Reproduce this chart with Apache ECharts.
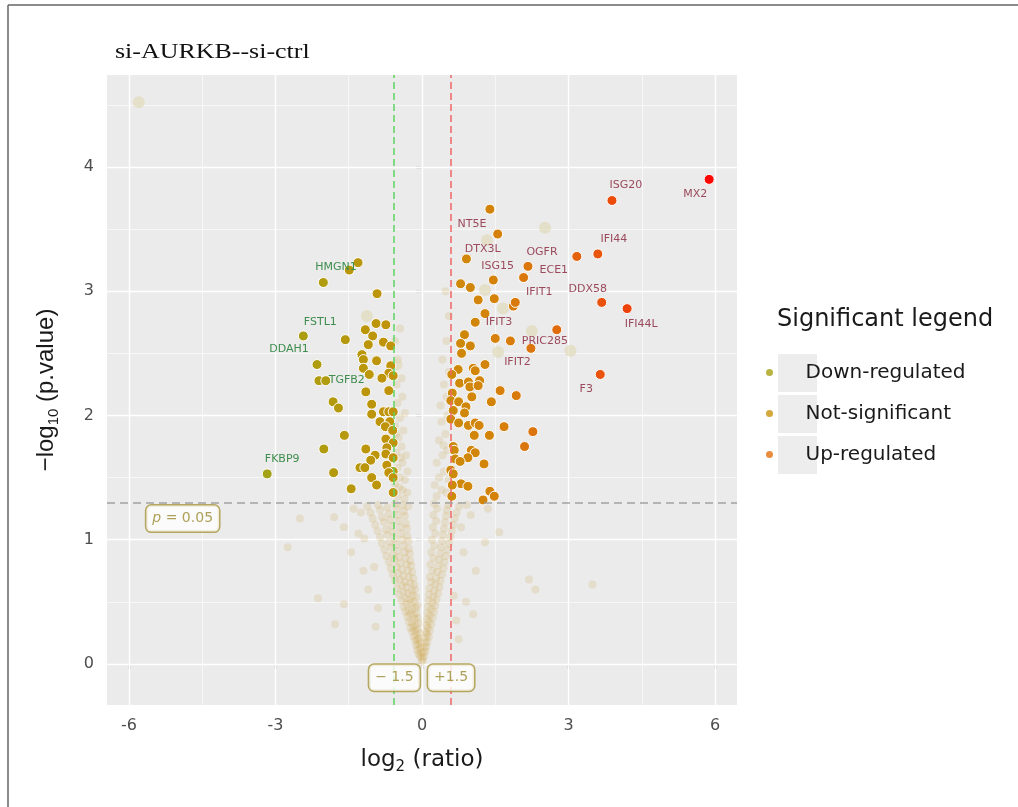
<!DOCTYPE html>
<html>
<head>
<meta charset="utf-8">
<title>si-AURKB--si-ctrl volcano</title>
<script src="https://cdn.jsdelivr.net/npm/echarts@6/dist/echarts.min.js"></script>
<style>
    html, body { margin: 0; padding: 0; background: #fff; }
    #chart { width: 1018px; height: 807px; }
</style>
</head>
<body>
<div id="chart"></div>
<script>
// thresholds: fold change 1.5 and p = 0.05
const FC_CUT = 0.585;
const P_CUT = 1.301;

const xTicks = [-6, -3, 0, 3, 6];
const xMinorLines = [-4.5, -1.5, 1.5, 4.5];
const yTicks = [0, 1, 2, 3, 4];
const yMinorLines = [0.5, 1.5, 2.5, 3.5, 4.5];

const legendNames = ['Down-regulated', 'Not-significant', 'Up-regulated'];
const legendColors = ['#a6a014', '#c8920c', '#e2700e'];

// significant genes that carry a label: [name, log2 ratio, -log10 p]
const labeledGenes = [
    ['HMGN1', -1.31, 3.23],
    ['FSTL1', -2.43, 2.64],
    ['DDAH1', -2.15, 2.41],
    ['TGFB2', -1.97, 2.28],
    ['FKBP9', -3.17, 1.53],
    ['MX2', 5.88, 3.90],
    ['ISG20', 3.89, 3.73],
    ['NT5E', 1.39, 3.66],
    ['DTX3L', 1.55, 3.46],
    ['IFI44', 3.60, 3.30],
    ['ECE1', 3.17, 3.28],
    ['OGFR', 2.17, 3.20],
    ['ISG15', 2.08, 3.11],
    ['IFIT1', 1.91, 2.91],
    ['DDX58', 3.68, 2.91],
    ['IFI44L', 4.20, 2.86],
    ['IFIT3', 1.29, 2.82],
    ['IFIT2', 1.81, 2.60],
    ['PRIC285', 2.23, 2.54],
    ['F3', 3.65, 2.33]
];

// other significant genes, left of -1.5 fold
const downPoints = [
    [-1.49, 3.17], [-2.02, 3.07], [-0.92, 2.98], [-0.94, 2.74], [-0.74, 2.73], [-1.16, 2.69],
    [-1.01, 2.64], [-1.57, 2.61], [-0.79, 2.59], [-1.10, 2.57], [-0.64, 2.56], [-1.23, 2.49],
    [-1.20, 2.45], [-0.93, 2.44], [-0.64, 2.40], [-1.20, 2.38], [-0.68, 2.34], [-1.08, 2.33],
    [-0.59, 2.32], [-0.82, 2.30], [-2.11, 2.28], [-0.68, 2.20], [-1.15, 2.19], [-1.82, 2.11],
    [-1.71, 2.06], [-1.03, 2.09], [-1.03, 2.01], [-0.79, 2.03], [-0.68, 2.03], [-0.59, 2.03],
    [-0.86, 1.95], [-0.66, 1.95], [-0.75, 1.91], [-0.60, 1.88], [-1.59, 1.84], [-0.74, 1.81],
    [-0.59, 1.78], [-0.72, 1.74], [-2.01, 1.73], [-1.15, 1.73], [-0.96, 1.68], [-0.74, 1.69],
    [-0.59, 1.66], [-1.05, 1.64], [-0.72, 1.60], [-1.27, 1.58], [-1.17, 1.58], [-0.59, 1.55],
    [-1.81, 1.54], [-0.68, 1.54], [-1.03, 1.50], [-0.59, 1.50], [-0.93, 1.44], [-1.45, 1.41],
    [-0.59, 1.38]
];

// other significant genes, right of +1.5 fold
const upPoints = [
    [0.91, 3.26], [1.46, 3.09], [0.79, 3.06], [0.99, 3.03], [1.15, 2.93], [1.48, 2.94],
    [1.87, 2.88], [1.09, 2.75], [2.76, 2.69], [0.87, 2.65], [0.79, 2.58], [0.99, 2.56],
    [1.50, 2.62], [0.81, 2.50], [1.29, 2.41], [0.74, 2.37], [1.05, 2.38], [1.09, 2.36],
    [0.61, 2.33], [0.77, 2.26], [0.95, 2.27], [1.18, 2.28], [0.98, 2.23], [1.15, 2.24],
    [1.60, 2.20], [1.93, 2.16], [1.02, 2.15], [0.62, 2.18], [0.59, 2.12], [0.75, 2.11],
    [1.42, 2.11], [0.90, 2.07], [0.87, 2.02], [0.64, 2.04], [0.59, 1.97], [0.75, 1.94],
    [0.95, 1.92], [1.09, 1.94], [1.17, 1.92], [1.68, 1.91], [2.27, 1.87], [1.07, 1.84],
    [1.38, 1.84], [2.10, 1.75], [0.64, 1.75], [0.66, 1.72], [1.01, 1.72], [1.09, 1.70],
    [0.94, 1.66], [0.68, 1.65], [0.78, 1.63], [1.27, 1.61], [0.59, 1.56], [0.64, 1.53],
    [0.80, 1.45], [0.94, 1.43], [0.62, 1.44], [1.39, 1.39], [1.48, 1.35], [1.25, 1.32],
    [0.61, 1.35]
];

// non-significant genes, left arm of the V
const cloudLeft = [
    [-0.01, 0.02], [0.00, 0.05], [-0.04, 0.06], [-0.02, 0.09], [-0.07, 0.08], [-0.05, 0.12],
    [-0.10, 0.11], [-0.03, 0.14], [-0.12, 0.15], [-0.08, 0.16], [-0.04, 0.18], [-0.14, 0.19],
    [-0.10, 0.20], [-0.06, 0.21], [-0.17, 0.22], [-0.12, 0.24], [-0.05, 0.25], [-0.20, 0.26],
    [-0.15, 0.27], [-0.09, 0.28], [-0.24, 0.29], [-0.18, 0.30], [-0.12, 0.31], [-0.07, 0.33],
    [-0.27, 0.34], [-0.21, 0.33], [-0.15, 0.36], [-0.09, 0.37], [-0.30, 0.38], [-0.24, 0.40],
    [-0.17, 0.39], [-0.11, 0.41], [-0.34, 0.42], [-0.27, 0.43], [-0.20, 0.44], [-0.13, 0.45],
    [-0.09, 0.47], [-0.38, 0.46], [-0.31, 0.48], [-0.23, 0.49], [-0.16, 0.50], [-0.42, 0.51],
    [-0.34, 0.53], [-0.26, 0.52], [-0.19, 0.55], [-0.12, 0.54], [-0.47, 0.56], [-0.38, 0.58],
    [-0.29, 0.57], [-0.21, 0.59], [-0.14, 0.60], [-0.51, 0.61], [-0.41, 0.63], [-0.32, 0.62],
    [-0.24, 0.65], [-0.16, 0.64], [-0.55, 0.67], [-0.45, 0.68], [-0.35, 0.66], [-0.27, 0.70],
    [-0.18, 0.69], [-0.60, 0.72], [-0.49, 0.73], [-0.38, 0.71], [-0.29, 0.75], [-0.20, 0.74],
    [-0.64, 0.77], [-0.52, 0.78], [-0.41, 0.76], [-0.31, 0.80], [-0.22, 0.79], [-0.68, 0.82],
    [-0.56, 0.84], [-0.44, 0.81], [-0.34, 0.85], [-0.24, 0.83], [-0.73, 0.87], [-0.60, 0.88],
    [-0.47, 0.86], [-0.36, 0.90], [-0.25, 0.89], [-0.77, 0.92], [-0.63, 0.94], [-0.50, 0.91],
    [-0.38, 0.95], [-0.27, 0.93], [-0.82, 0.97], [-0.67, 0.98], [-0.53, 0.96], [-0.41, 1.00],
    [-0.28, 0.99], [-0.86, 1.02], [-0.71, 1.04], [-0.56, 1.01], [-0.43, 1.05], [-0.30, 1.03],
    [-0.91, 1.07], [-0.74, 1.08], [-0.59, 1.06], [-0.45, 1.10], [-0.31, 1.09], [-0.96, 1.12],
    [-0.78, 1.14], [-0.62, 1.11], [-0.48, 1.15], [-0.33, 1.13], [-1.01, 1.17], [-0.82, 1.18],
    [-0.65, 1.16], [-0.50, 1.20], [-0.35, 1.19], [-1.06, 1.22], [-0.86, 1.24], [-0.68, 1.21],
    [-0.52, 1.25], [-0.37, 1.23], [-1.12, 1.27], [-0.90, 1.28], [-0.71, 1.26], [-0.55, 1.29],
    [-0.40, 1.28], [-0.28, 1.27]
];

// non-significant genes, right arm of the V
const cloudRight = [
    [0.02, 0.03], [0.04, 0.06], [0.03, 0.09], [0.07, 0.10], [0.05, 0.13], [0.09, 0.14],
    [0.06, 0.17], [0.11, 0.18], [0.07, 0.21], [0.14, 0.22], [0.10, 0.24], [0.08, 0.26],
    [0.16, 0.27], [0.12, 0.29], [0.09, 0.31], [0.19, 0.32], [0.14, 0.34], [0.10, 0.36],
    [0.22, 0.37], [0.16, 0.39], [0.11, 0.41], [0.25, 0.42], [0.19, 0.44], [0.12, 0.46],
    [0.27, 0.47], [0.21, 0.49], [0.13, 0.51], [0.30, 0.52], [0.23, 0.54], [0.14, 0.56],
    [0.33, 0.57], [0.25, 0.59], [0.15, 0.61], [0.36, 0.62], [0.27, 0.64], [0.19, 0.66],
    [0.38, 0.67], [0.29, 0.69], [0.16, 0.70], [0.41, 0.72], [0.31, 0.74], [0.21, 0.75],
    [0.44, 0.77], [0.33, 0.79], [0.17, 0.80], [0.46, 0.82], [0.35, 0.84], [0.23, 0.85],
    [0.49, 0.87], [0.37, 0.89], [0.19, 0.90], [0.52, 0.92], [0.39, 0.94], [0.25, 0.95],
    [0.55, 0.97], [0.41, 0.99], [0.20, 1.00], [0.58, 1.02], [0.43, 1.04], [0.27, 1.05],
    [0.61, 1.07], [0.45, 1.09], [0.22, 1.10], [0.64, 1.12], [0.47, 1.14], [0.29, 1.15],
    [0.67, 1.17], [0.49, 1.19], [0.23, 1.20], [0.71, 1.22], [0.51, 1.24], [0.31, 1.25],
    [0.76, 1.27], [0.54, 1.28], [0.25, 1.29]
];

// non-significant genes above the p line, between the fold lines, and scattered outliers
const cloudOther = [
    [-0.50, 1.35], [-0.40, 1.40], [-0.30, 1.38], [-0.55, 1.45], [-0.45, 1.50], [-0.35, 1.48],
    [-0.50, 1.58], [-0.40, 1.62], [-0.30, 1.55], [-0.52, 1.70], [-0.42, 1.75], [-0.33, 1.68],
    [-0.48, 1.82], [-0.38, 1.88], [-0.55, 1.92], [-0.45, 1.98], [-0.35, 2.02], [-0.50, 2.10],
    [-0.40, 2.15], [-0.52, 2.25], [-0.42, 2.30], [-0.50, 2.45], [-0.55, 2.60], [-0.45, 2.70],
    [-0.47, 1.42], [-0.36, 1.33], [-0.44, 1.66], [-0.53, 1.85], [0.30, 1.35], [0.40, 1.40],
    [0.50, 1.38], [0.35, 1.50], [0.45, 1.55], [0.55, 1.48], [0.30, 1.62], [0.42, 1.68],
    [0.52, 1.72], [0.35, 1.80], [0.48, 1.85], [0.40, 1.95], [0.52, 2.00], [0.38, 2.08],
    [0.50, 2.15], [0.45, 2.25], [0.55, 2.35], [0.42, 2.45], [0.50, 2.60], [0.55, 2.80],
    [0.48, 3.00], [0.26, 1.44], [0.44, 1.76], [-2.75, 0.94], [-2.50, 1.17], [-1.80, 1.18],
    [-2.13, 0.53], [-1.60, 0.48], [-1.78, 0.32], [-1.45, 0.90], [-1.30, 1.05], [-1.20, 0.75],
    [-1.10, 0.60], [-0.90, 0.45], [-1.40, 1.25], [-1.60, 1.10], [-0.95, 0.30], [-1.25, 1.22],
    [-1.18, 1.01], [-0.98, 0.78], [3.49, 0.64], [2.19, 0.68], [2.32, 0.60], [1.58, 1.06],
    [1.29, 0.98], [1.00, 1.20], [0.85, 0.90], [0.90, 0.50], [0.70, 0.35], [1.10, 0.75],
    [1.35, 1.25], [0.80, 1.10], [0.65, 0.55], [1.05, 0.40], [0.75, 0.20], [0.92, 1.28]
];

// faint, larger non-significant points
const faintLargePoints = [
    [-5.8, 4.52], [2.52, 3.51], [3.04, 2.52], [1.33, 3.41], [1.29, 3.01], [1.66, 2.86],
    [2.25, 2.68], [1.56, 2.51], [-1.13, 2.80], [-0.52, 2.41]
];

// annotation boxes: [text, x, y]
const annotations = [
    ['{i|p} = 0.05', -4.9, 1.17],
    ['− 1.5', -0.565, -0.11],
    ['+1.5', 0.595, -0.11]
];

// label nudges in pixels, by gene
const labelNudge = {
    HMGN1: [-22, 5], FSTL1: [17, -14], DDAH1: [-28, -15], TGFB2: [21, -1], FKBP9: [15, -15],
    MX2: [-14, 15], ISG20: [14, -15], NT5E: [-18, 15], DTX3L: [-15, 15], IFI44: [16, -15],
    ECE1: [-23, 14], OGFR: [14, -14], ISG15: [-26, -11], IFIT1: [24, -10], DDX58: [-14, -13],
    IFI44L: [14, 16], IFIT3: [14, 9], IFIT2: [7, 21], PRIC285: [14, -7], F3: [-14, 15]
};

const SANS = '"DejaVu Sans", sans-serif';
const ARIAL = '"Liberation Sans", Arial, sans-serif';

function buildSignificantData() {
    const plain = downPoints.concat(upPoints).map((p) => ({ value: p }));
    const named = labeledGenes.map(([name, x, y]) => ({
        name,
        value: [x, y],
        label: {
            show: true,
            formatter: name,
            color: x < 0 ? '#3f8d4e' : '#9b4a5c'
        }
    }));
    return plain.concat(named);
}

function gridLines() {
    const major = { color: '#ffffff', width: 1.4, type: 'solid' };
    const minor = { color: '#ffffff', width: 0.6, type: 'solid' };
    return []
        .concat(xMinorLines.map((v) => ({ xAxis: v, lineStyle: minor })))
        .concat(yMinorLines.map((v) => ({ yAxis: v, lineStyle: minor })))
        .concat(xTicks.map((v) => ({ xAxis: v, lineStyle: major })))
        .concat(yTicks.map((v) => ({ yAxis: v, lineStyle: major })));
}

const chart = echarts.init(document.getElementById('chart'));

const option = {
    animation: false,
    backgroundColor: '#ffffff',
    grid: {
        left: 107, right: 281, top: 75, bottom: 102,
        show: true, backgroundColor: '#ebebeb', borderWidth: 0
    },
    xAxis: {
        type: 'value', min: -6.45, max: 6.45,
        axisLine: { show: false },
        splitLine: { show: false },
        axisTick: { show: true, customValues: xTicks, length: 5, lineStyle: { color: '#333', width: 1.2 } },
        axisLabel: { customValues: xTicks, fontSize: 16, color: '#4d4d4d', margin: 13, fontFamily: SANS },
        name: '{n|log}{s|2}{n| (ratio)}',
        nameLocation: 'middle',
        nameGap: 40,
        nameTextStyle: {
            rich: {
                n: { fontSize: 23, lineHeight: 30, color: '#1a1a1a', fontFamily: SANS },
                s: { fontSize: 15, lineHeight: 16, verticalAlign: 'bottom', color: '#1a1a1a', fontFamily: SANS }
            }
        }
    },
    yAxis: {
        type: 'value', min: -0.33, max: 4.74,
        axisLine: { show: false },
        splitLine: { show: false },
        axisTick: { show: true, customValues: yTicks, length: 6, lineStyle: { color: '#333', width: 1.2 } },
        axisLabel: { customValues: yTicks, fontSize: 16, color: '#4d4d4d', margin: 13, fontFamily: SANS },
        name: '{n|−log}{s|10}{n| (p.value)}',
        nameLocation: 'middle',
        nameRotate: 90,
        nameGap: 46,
        nameTextStyle: {
            rich: {
                n: { fontSize: 24, lineHeight: 30, color: '#1a1a1a', fontFamily: ARIAL },
                s: { fontSize: 15, lineHeight: 16, verticalAlign: 'bottom', color: '#1a1a1a', fontFamily: ARIAL }
            }
        }
    },
    visualMap: {
        type: 'continuous', show: false, dimension: 0, seriesIndex: 3,
        min: -3.2, max: 6,
        inRange: { color: ['#a3a114', '#b5990c', '#c6900a', '#d4830a', '#e2690f', '#f03a0a', '#ff0000'] }
    },
    legend: {
        orient: 'vertical', left: 766, top: 352, padding: 0, itemGap: 0,
        itemWidth: 62, itemHeight: 7, icon: 'circle', selectedMode: false, z: 5,
        data: legendNames,
        textStyle: { fontSize: 20, lineHeight: 41, color: '#1a1a1a', fontFamily: SANS }
    },
    graphic: [
        { type: 'line', shape: { x1: 8, y1: 5, x2: 8, y2: 807 }, style: { stroke: '#666', lineWidth: 1.5 } },
        { type: 'line', shape: { x1: 8, y1: 5, x2: 1018, y2: 5 }, style: { stroke: '#666', lineWidth: 1.5 } },
        {
            type: 'text', x: 115, y: 52, scaleX: 1.18,
            style: { text: 'si-AURKB--si-ctrl', fill: '#111', font: '22px "Liberation Serif", "Times New Roman", serif', verticalAlign: 'middle' }
        },
        {
            type: 'text', x: 777, y: 320,
            style: { text: 'Significant legend', fill: '#1a1a1a', font: '24px ' + SANS, verticalAlign: 'middle' }
        },
        { type: 'rect', z: 0, shape: { x: 778, y: 354, width: 39, height: 38 }, style: { fill: '#ededed' } },
        { type: 'rect', z: 0, shape: { x: 778, y: 395, width: 39, height: 38 }, style: { fill: '#ededed' } },
        { type: 'rect', z: 0, shape: { x: 778, y: 436, width: 39, height: 38 }, style: { fill: '#ededed' } }
    ],
    series: [
        {
            type: 'scatter', data: [], silent: true, z: 1,
            markLine: { z: 1, silent: true, symbol: ['none', 'none'], label: { show: false }, animation: false, data: gridLines() }
        },
        {
            type: 'scatter', data: cloudLeft.concat(cloudRight, cloudOther), silent: true, z: 2,
            symbolSize: 8,
            itemStyle: { color: 'rgba(208,170,80,0.26)' }
        },
        {
            type: 'scatter', data: faintLargePoints, silent: true, z: 2,
            symbolSize: 12,
            itemStyle: { color: 'rgba(224,216,182,0.8)' }
        },
        {
            type: 'scatter', data: buildSignificantData(), z: 4,
            symbolSize: 10,
            itemStyle: { borderColor: '#ffffff', borderWidth: 1, opacity: 1 },
            label: { show: false, position: 'inside', fontSize: 11, fontFamily: SANS },
            labelLayout: (params) => {
                const nudge = labelNudge[params.text];
                return nudge ? { dx: nudge[0], dy: nudge[1] } : {};
            }
        },
        {
            type: 'scatter', data: [], silent: true, z: 5,
            markLine: {
                z: 5, silent: true, symbol: ['none', 'none'], label: { show: false }, animation: false,
                data: [
                    { xAxis: -FC_CUT, lineStyle: { color: '#5fd35f', width: 1.5, type: [7, 4] } },
                    { xAxis: FC_CUT, lineStyle: { color: '#f06868', width: 1.5, type: [7, 4] } },
                    { yAxis: P_CUT, lineStyle: { color: '#a3a3a3', width: 1.5, type: [8, 5] } }
                ]
            }
        },
        {
            type: 'scatter', silent: true, z: 6,
            symbolSize: 0,
            itemStyle: { color: 'rgba(0,0,0,0)' },
            data: annotations.map(([text, x, y]) => ({ value: [x, y], text })),
            label: {
                show: true, position: 'inside',
                formatter: (p) => p.data.text,
                fontSize: 14, fontFamily: SANS, color: '#9a8a30',
                backgroundColor: '#ffffff', borderColor: '#a8953c', borderWidth: 1.5, borderRadius: 5,
                padding: [6, 6],
                rich: { i: { fontSize: 14, fontStyle: 'italic', color: '#9a8a30', fontFamily: SANS } }
            }
        }
    ].concat(legendNames.map((name, i) => ({
        type: 'scatter', name, data: [], itemStyle: { color: legendColors[i] }
    })))
};

chart.setOption(option);
</script>
</body>
</html>
